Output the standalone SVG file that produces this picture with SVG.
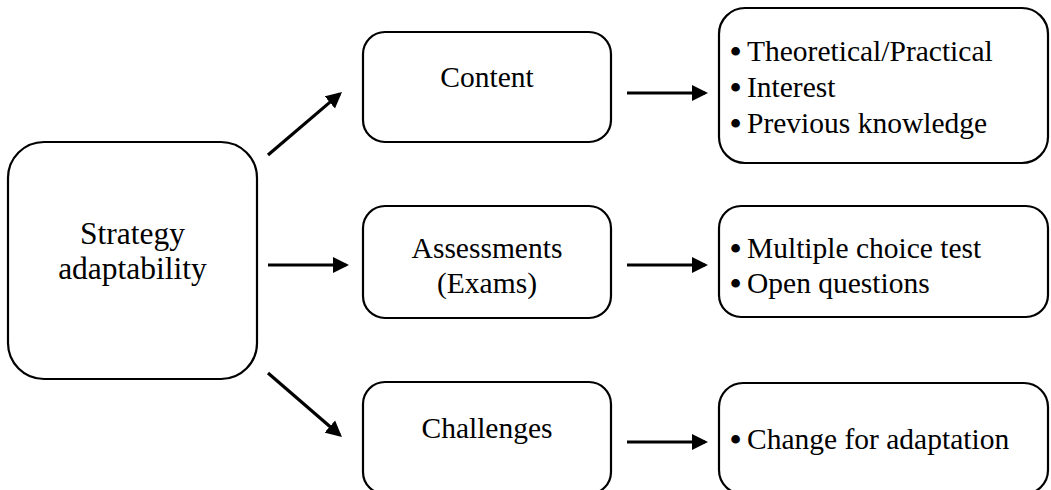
<svg xmlns="http://www.w3.org/2000/svg" width="1051" height="490" viewBox="0 0 1051 490">
<style>
.box{fill:#fff;stroke:#000;stroke-width:2.2}
.t{font-family:"Liberation Serif","Times New Roman",serif;font-size:29.5px;fill:#000}
.big{font-size:31.5px}
.b{font-size:32px;font-weight:bold}
.c{text-anchor:middle}
.conn line{stroke:#000;stroke-width:3.2;marker-end:url(#ah)}
</style>
<defs>
<marker id="ah" markerUnits="userSpaceOnUse" markerWidth="17" markerHeight="17" refX="13" refY="8" orient="auto" viewBox="0 0 17 16">
<path d="M0,0 L16,8 L0,16 z" fill="#000"/>
</marker>
</defs>
<rect width="1051" height="490" fill="#fff"/>
<g id="strategy">
<rect class="box" x="8" y="142" width="249" height="237" rx="36" ry="36"/>
<text class="t big c" x="132.5" y="244">Strategy</text>
<text class="t big c" x="132.5" y="279">adaptability</text>
</g>
<g id="content">
<rect class="box" x="363" y="32" width="248" height="110" rx="22" ry="22"/>
<text class="t c" x="487" y="87">Content</text>
</g>
<g id="assessments">
<rect class="box" x="363" y="206" width="248" height="112" rx="22" ry="22"/>
<text class="t c" x="487" y="258">Assessments</text>
<text class="t c" x="487" y="293">(Exams)</text>
</g>
<g id="challenges">
<rect class="box" x="363" y="382" width="248" height="112" rx="22" ry="22"/>
<text class="t c" x="487" y="438">Challenges</text>
</g>
<g id="content-details">
<rect class="box" x="719" y="8" width="329" height="155" rx="26" ry="26"/>
<text class="t b" x="730" y="62">•</text><text class="t" x="747" y="61">Theoretical/Practical</text>
<text class="t b" x="730" y="98">•</text><text class="t" x="747" y="97">Interest</text>
<text class="t b" x="730" y="134">•</text><text class="t" x="747" y="133">Previous knowledge</text>
</g>
<g id="assessment-details">
<rect class="box" x="719" y="206" width="329" height="111" rx="22" ry="22"/>
<text class="t b" x="730" y="259">•</text><text class="t" x="747" y="258">Multiple choice test</text>
<text class="t b" x="730" y="294">•</text><text class="t" x="747" y="293">Open questions</text>
</g>
<g id="challenge-details">
<rect class="box" x="719" y="383" width="329" height="111" rx="24" ry="24"/>
<text class="t b" x="730" y="450">•</text><text class="t" x="747" y="449">Change for adaptation</text>
</g>
<g id="connectors" class="conn">
<line x1="268" y1="155" x2="339.7" y2="93.9"/>
<line x1="268" y1="265" x2="346" y2="265"/>
<line x1="268" y1="373" x2="339.7" y2="435"/>
<line x1="627" y1="93" x2="705" y2="93"/>
<line x1="627" y1="265" x2="705" y2="265"/>
<line x1="627" y1="442" x2="705" y2="442"/>
</g>
</svg>
